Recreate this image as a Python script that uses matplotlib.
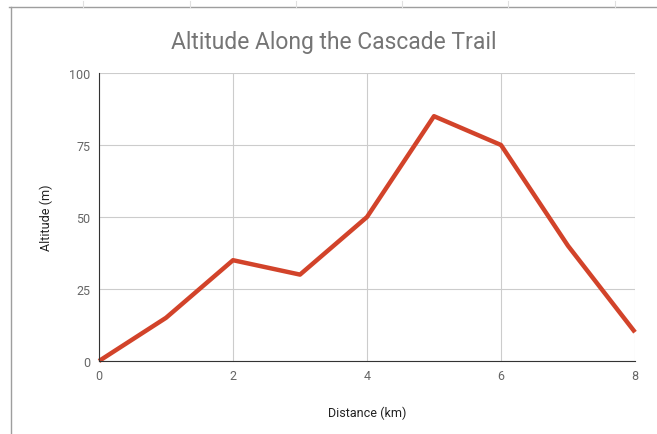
import matplotlib.pyplot as plt
from matplotlib.lines import Line2D

plt.rcParams['font.family'] = ['Roboto', 'DejaVu Sans']

# Дані маршруту
distance_km = [0, 1, 2, 3, 4, 5, 6, 7, 8]
altitude_m = [0, 15, 35, 30, 50, 85, 75, 40, 10]
x_ticks = [0, 2, 4, 6, 8]
y_ticks = [0, 25, 50, 75, 100]

fig = plt.figure(figsize=(6.57, 4.35), dpi=100)
ax = fig.add_axes([0.1507, 0.1678, 0.8158, 0.6621])

# Рамка скриншота
fig.add_artist(Line2D([11 / 657, 11 / 657], [0, 1 - 8 / 435], color='#9e9e9e', lw=1))
fig.add_artist(Line2D([9 / 657, 1], [1 - 8 / 435, 1 - 8 / 435], color='#9e9e9e', lw=1))
for xp in [83, 190, 296, 402, 508, 615]:
    fig.add_artist(Line2D([xp / 657, xp / 657], [1 - 8 / 435, 1 - 2 / 435], color='#e0e0e0', lw=0.8))

ax.plot(distance_km, altitude_m, color='#d2432a', lw=3.2, solid_capstyle='butt', zorder=3, clip_on=False)

ax.set_xlim(0, 8)
ax.set_ylim(0, 100)
ax.set_xticks(x_ticks)
ax.set_yticks(y_ticks)
ax.grid(True, color='#cccccc', lw=0.8)
ax.tick_params(length=0, labelsize=9, labelcolor='#666666', pad=6)

for s in ['top', 'right']:
    ax.spines[s].set_visible(False)
ax.spines['left'].set_color('#333333')
ax.spines['bottom'].set_color('#333333')
ax.spines['left'].set_zorder(4)
ax.spines['bottom'].set_zorder(4)

# Заголовок по центру всієї картинки
fig.text(334 / 657, 1 - 42 / 435, 'Altitude Along the Cascade Trail',
         fontsize=16.5, color='#757575', ha='center', va='center')
ax.set_xlabel('Distance (km)', fontsize=9, color='#222222', labelpad=17)
ax.set_ylabel('Altitude (m)', fontsize=9, color='#222222', labelpad=12)

fig.savefig('out.png', dpi=100)
